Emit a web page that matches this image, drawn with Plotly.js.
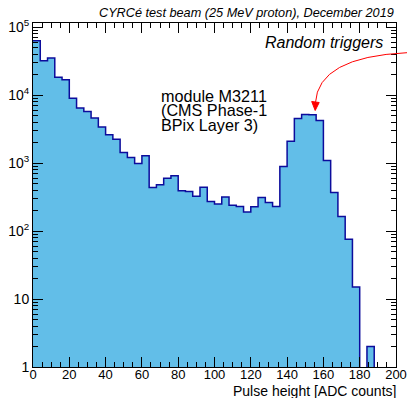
<!DOCTYPE html>
<html>
<head>
<meta charset="utf-8">
<script src="https://cdn.plot.ly/plotly-3.0.1.min.js"></script>
<style>html,body{margin:0;padding:0;background:#fff;}#chart{width:407px;height:398px;}</style>
</head>
<body>
<div id="chart"></div>
<script>
// ---- data ----
const binWidth = 4;
const counts = [63000, 32000, 35000, 18300, 16800, 9000, 6450, 5740, 4600, 3390,
                2610, 2240, 1430, 1210, 985, 1280, 437, 480, 600, 650,
                390, 380, 325, 440, 272, 250, 317, 240, 230, 190,
                228, 312, 263, 230, 890, 2090, 4530, 5190, 5130, 4230,
                1090, 370, 164, 76, 15, 0, 2, 0, 0, 0];
const xTickVals = [0, 20, 40, 60, 80, 100, 120, 140, 160, 180, 200];
const yTickVals = [1, 10, 100, 1000, 10000, 100000];
const yTickText = ['1', '10', '10<sup>2</sup>', '10<sup>3</sup>', '10<sup>4</sup>', '10<sup>5</sup>'];
const titleText = 'CYRCé test beam (25 MeV proton), December 2019';
const xTitle = 'Pulse height [ADC counts]';
const moduleLines = ['module M3211', '(CMS Phase-1', 'BPix Layer 3)'];
const labelText = 'Random triggers';

// ---- derived ----
const binLow = counts.map((_, i) => i * binWidth);
const binCenter = binLow.map(v => v + binWidth / 2);
const stepX = binLow.concat([binLow[binLow.length - 1] + binWidth]);
const stepY = counts.map(v => v > 0 ? v : 0.01).concat([counts[counts.length - 1] > 0 ? counts[counts.length - 1] : 0.01]);
const yMinor = [];
for (let d = 0; d < 5; d++) for (let k = 2; k <= 9; k++) yMinor.push(k * Math.pow(10, d));

// page pixel -> paper helpers (plot area 33..396 x 23..367)
const L = 33, R = 396, T = 23, B = 367;
const fx = p => (p - L) / (R - L);
const fy = p => (B - p) / (B - T);

const traces = [
  {type: 'bar', x: binCenter, y: counts, width: binWidth,
   marker: {color: '#62bee8', line: {width: 0}}, hoverinfo: 'skip'},
  {type: 'scatter', mode: 'lines', x: stepX, y: stepY,
   line: {shape: 'hv', color: '#0c0c9c', width: 1.5}, hoverinfo: 'skip'}
];

const fam = 'Liberation Sans, Arial, sans-serif';
const arrowPath = `M ${fx(407)} ${fy(52.7)} Q ${fx(318)} ${fy(57)} ${fx(315.4)} ${fy(103)}`;
const headPath = `M ${fx(311.7)} ${fy(101.5)} L ${fx(319.2)} ${fy(102.5)} L ${fx(315.2)} ${fy(110.5)} Z`;

const layout = {
  width: 407, height: 398,
  margin: {l: L, r: 407 - R, t: T, b: 398 - B, pad: 0},
  paper_bgcolor: '#fff', plot_bgcolor: '#fff',
  showlegend: false, bargap: 0,
  font: {family: fam, color: '#000', size: 13},
  xaxis: {
    range: [0, 200], tickvals: xTickVals, ticks: 'inside', ticklen: 10, tickwidth: 1,
    tickcolor: '#000', showline: true, linecolor: '#000', linewidth: 1, mirror: 'ticks',
    showgrid: false, zeroline: false, tickfont: {family: fam, size: 13, color: '#000'},
    ticklabelstandoff: -5,
    minor: {dtick: 5, ticks: 'inside', ticklen: 5, tickcolor: '#000', showgrid: false}
  },
  yaxis: {
    type: 'log', range: [0, 5.06], tickvals: yTickVals, ticktext: yTickText,
    ticks: 'inside', ticklen: 10, tickwidth: 1, tickcolor: '#000',
    showline: true, linecolor: '#000', linewidth: 1, mirror: 'ticks',
    showgrid: false, zeroline: false, tickfont: {family: fam, size: 14, color: '#000'},
    minor: {tickvals: yMinor, ticks: 'inside', ticklen: 5, tickcolor: '#000', showgrid: false}
  },
  shapes: [
    {type: 'path', xref: 'paper', yref: 'paper', path: arrowPath, line: {color: '#ff0000', width: 1}},
    {type: 'path', xref: 'paper', yref: 'paper', path: headPath, fillcolor: '#ff0000', line: {color: '#ff0000', width: 1}}
  ],
  annotations: [
    {text: '<i>' + titleText + '</i>', xref: 'paper', yref: 'paper', x: 1, y: fy(13),
     xanchor: 'right', yanchor: 'middle', showarrow: false, font: {family: fam, size: 12.7, color: '#000'}},
    {text: '<i>' + labelText + '</i>', xref: 'paper', yref: 'paper', x: fx(385), y: fy(42.5),
     xanchor: 'right', yanchor: 'middle', showarrow: false, font: {family: fam, size: 16, color: '#000'}},
    {text: xTitle, xref: 'paper', yref: 'paper', x: 1.005, y: fy(391),
     xanchor: 'right', yanchor: 'middle', showarrow: false, font: {family: fam, size: 14, color: '#000'}},
    ...moduleLines.map((t, i) => ({text: t, xref: 'paper', yref: 'paper', x: fx(160),
      y: fy(95.8 + i * 14.6), xanchor: 'left', yanchor: 'middle', showarrow: false, borderpad: 0,
      font: {family: fam, size: 16.2, color: '#000'}}))
  ]
};

Plotly.newPlot('chart', traces, layout, {staticPlot: true, displayModeBar: false});
</script>
</body>
</html>
